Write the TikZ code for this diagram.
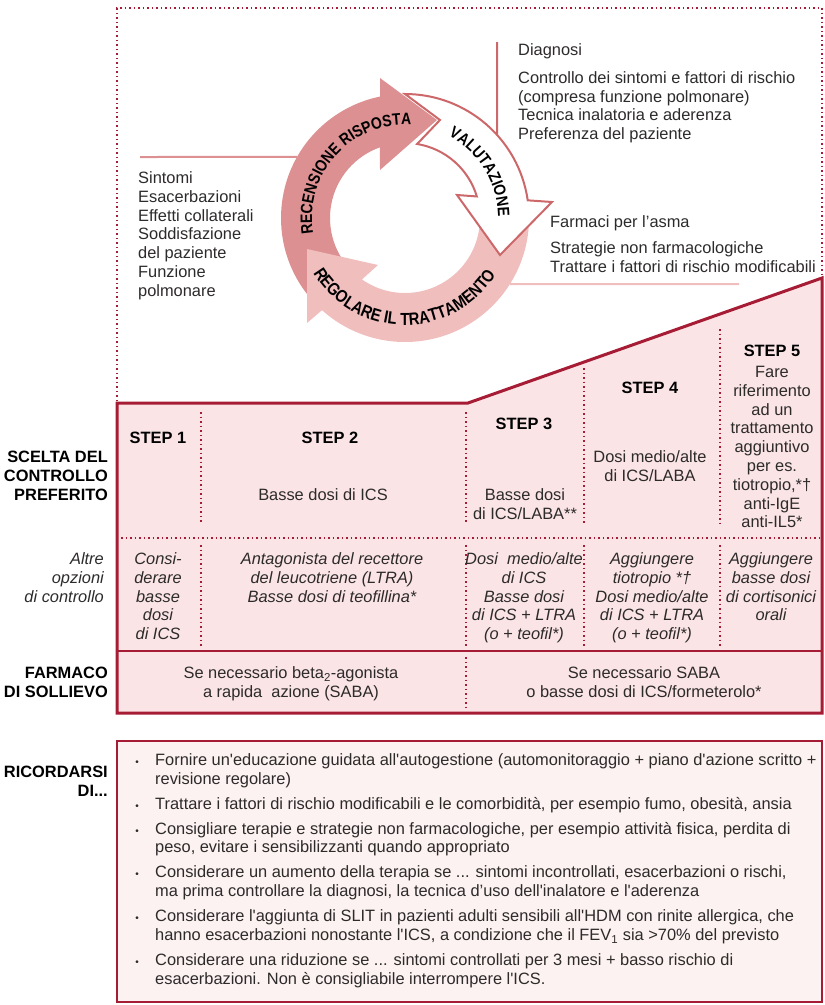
\documentclass[tikz,border=0pt]{standalone}
\usepackage{fontspec}
\setmainfont{Liberation Sans}[Ligatures=TeXOff]
\newfontfamily\ringface{Liberation Sans}[FakeStretch=0.85]
\usetikzlibrary{decorations.text}

\definecolor{ginared}{RGB}{166,28,52}
\definecolor{cellpink}{RGB}{250,228,230}
\definecolor{notepink}{RGB}{253,242,242}
\definecolor{rosedark}{RGB}{220,144,146}
\definecolor{roselight}{RGB}{241,190,190}
\definecolor{roseline}{RGB}{204,104,106}
\definecolor{txt}{RGB}{45,42,42}
\newcommand\ringfont{\ringface\bfseries\fontsize{16.5}{16.5}\selectfont}

\begin{document}
\begin{tikzpicture}[
  x=1pt,y=-1pt,
  every node/.style={inner sep=0pt,text=txt,font=\fontsize{16.4}{18.8}\selectfont},
  rowlabel/.style={anchor=base east,align=right,text=black,font=\fontsize{16.4}{18.8}\selectfont\bfseries},
  steplabel/.style={anchor=base,text=black,font=\fontsize{16.4}{18.8}\selectfont\bfseries},
  cell/.style={anchor=base,align=center},
  altcell/.style={cell,font=\fontsize{16.4}{18.8}\selectfont\itshape},
  note/.style={anchor=base west,align=left},
  gridline/.style={ginared,line width=1.5,dash pattern=on 1.5pt off 3pt},
  link/.style={line width=2},
  arctext/.style={decorate,decoration={text along path,text align=center,text={#1}}}
]
  \useasboundingbox (0,0) rectangle (825,1005);
  % (multi-line nodes sit on the baseline of their last line)

  % frame round the cycle
  \draw[gridline] (117,401) -- (117,8) -- (822,8) -- (822,276);

  % texts round the cycle
  \node[note] (valut) at (518,139.7) {Diagnosi\\[9pt]Controllo dei sintomi e fattori di rischio\\(compresa funzione polmonare)\\Tecnica inalatoria e aderenza\\Preferenza del paziente};
  \node[note] (recen) at (138,296.3) {Sintomi\\Esacerbazioni\\Effetti collaterali\\Soddisfazione\\del paziente\\Funzione\\polmonare};
  \node[note] (regol) at (550,272.1) {Farmaci per l’asma\\[7pt]Strategie non farmacologiche\\Trattare i fattori di rischio modificabili};

  \coordinate (valT) at (497,42);
  \coordinate (recL) at (140,157);
  \coordinate (regR) at (739,284);

  \begin{scope}[shift={(405,218)}]
    \coordinate (whA) at (317.9:124);
    \coordinate (dkA) at (209.5:124);
    \coordinate (ltA) at (32.2:124);
    \draw[link,roseline] (valT) -- (whA);
    \draw[link,rosedark] (recL) -- (dkA);
    \draw[link,roselight] (ltA) -- (regR);

    % RECENSIONE RISPOSTA
    \fill[rosedark] (138:124) arc[start angle=138,end angle=258.4,radius=124]
      -- (-25,-140) -- (32,-98) -- (-25,-48)
      -- (250.5:75) arc[start angle=250.5,end angle=138,radius=75] -- cycle;
    % REGOLARE IL TRATTAMENTO
    \fill[roselight] (-5:124) arc[start angle=-5,end angle=132,radius=124]
      -- (-98,105) -- (-98,31) -- (-27,47)
      -- (125:75) arc[start angle=125,end angle=-5,radius=75] -- cycle;
    % VALUTAZIONE
    \filldraw[fill=white,draw=roseline,line width=2] (270:124) arc[start angle=270,end angle=351.8,radius=124]
      -- (147,-16) -- (95,37) -- (52,-23)
      -- (343.3:75) arc[start angle=343.3,end angle=279.3,radius=75] -- (35,-98) -- cycle;

    \path[arctext={|\ringfont|RECENSIONE RISPOSTA}] (150:93) arc[start angle=150,end angle=294,radius=93];
    \path[arctext={|\ringfont|VALUTAZIONE}] (280:93) arc[start angle=280,end angle=377,radius=93];
    \path[arctext={|\ringface\bfseries\fontsize{17.5}{17.5}\selectfont|REGOLARE IL TRATTAMENTO}] (165:107) arc[start angle=165,end angle=16,radius=107];
  \end{scope}

  % step table
  \draw[ginared,line width=3,fill=cellpink] (117,403) -- (468,403) -- (822,278) -- (822,713) -- (117,713) -- cycle;
  \draw[gridline] (121,538) -- (819,538);
  \draw[ginared,line width=2] (117,651) -- (822,651);
  \foreach \x/\ya/\yb in {201/412/523, 201/545/647, 466/412/523, 466/545/647, 466/657/709,
                          584/368/523, 584/545/647, 720/329/523, 720/545/647}
    \draw[gridline] (\x,\ya) -- (\x,\yb);

  \node[steplabel] (s1) at (158,443.5) {STEP 1};
  \node[steplabel] (s2) at (330,443.5) {STEP 2};
  \node[steplabel] (s3) at (524,429.5) {STEP 3};
  \node[steplabel] (s4) at (650,393.5) {STEP 4};
  \node[steplabel] (s5) at (772,356.5) {STEP 5};

  \node[rowlabel] (scelta) at (108,500.3) {SCELTA DEL\\CONTROLLO\hspace{4.5pt}\\PREFERITO};
  \node[rowlabel,font=\fontsize{16.4}{18.8}\selectfont\itshape,text=txt] (altre) at (104,602.1) {Altre\\opzioni\\di controllo};
  \node[rowlabel] (farmaco) at (108,697.5) {FARMACO\\DI SOLLIEVO};
  \node[rowlabel] (ricorda) at (108,796.5) {RICORDARSI\\DI...};

  \node[cell] (pref2) at (323,500.5) {Basse dosi di ICS};
  \node[cell] (pref3) at (525,519.3) {Basse dosi\\di ICS/LABA**};
  \node[cell] (pref4) at (650,481.3) {Dosi medio/alte\\di ICS/LABA};
  \node[cell] (pref5) at (772,527.9) {Fare\\riferimento\\ad un\\trattamento\\aggiuntivo\\per es.\\tiotropio,*†\\anti-IgE\\anti-IL5*};

  \node[altcell] (alt1) at (158,639.7) {Consi-\\derare\\basse\\dosi\\di ICS};
  \node[altcell] (alt2) at (332,602.1) {Antagonista del recettore\\del leucotriene (LTRA)\\Basse dosi di teofillina*};
  \node[altcell] (alt3) at (524,639.7) {Dosi~ medio/alte\\di ICS\\Basse dosi\\di ICS + LTRA\\(o + teofil*)};
  \node[altcell] (alt4) at (652,639.7) {Aggiungere\\tiotropio *†\\Dosi medio/alte\\di ICS + LTRA\\(o + teofil*)};
  \node[altcell] (alt5) at (771,620.9) {Aggiungere\\basse dosi\\di cortisonici\\orali};

  \node[cell] (soll1) at (291,697.3) {Se necessario beta\textsubscript{2}-agonista\\a rapida~ azione (SABA)};
  \node[cell] (soll2) at (644,697.3) {Se necessario SABA\\o basse dosi di ICS/formeterolo*};

  % reminders
  \draw[ginared,line width=2.5,fill=notepink] (117,741) rectangle (822,1002);
  \foreach \y/\n/\t [count=\i] in {
    765.5/2/{Fornire un'educazione guidata all'autogestione (automonitoraggio + piano d'azione scritto +\\revisione regolare)},
    809.3/1/{Trattare i fattori di rischio modificabili e le comorbidità, per esempio fumo, obesità, ansia},
    834.1/2/{Consigliare terapie e strategie non farmacologiche, per esempio attività fisica, perdita di\\peso, evitare i sensibilizzanti quando appropriato},
    877.9/2/{Considerare un aumento della terapia se ... sintomi incontrollati, esacerbazioni o rischi,\\ma prima controllare la diagnosi, la tecnica d’uso dell'inalatore e l'aderenza},
    921.7/2/{Considerare l'aggiunta di SLIT in pazienti adulti sensibili all'HDM con rinite allergica, che\\hanno esacerbazioni nonostante l'ICS, a condizione che il FEV\textsubscript{1} sia >70\% del previsto},
    965.5/2/{Considerare una riduzione se ... sintomi controllati per 3 mesi + basso rischio di\\esacerbazioni. Non è consigliabile interrompere l'ICS.}}
  {
    \node[anchor=base,font=\fontsize{10}{10}\selectfont] (bul\i) at (137,\y) {•};
    \node[note] (item\i) at (155,{\y+18.8*(\n-1)}) {\t};
  }
\end{tikzpicture}
\end{document}
